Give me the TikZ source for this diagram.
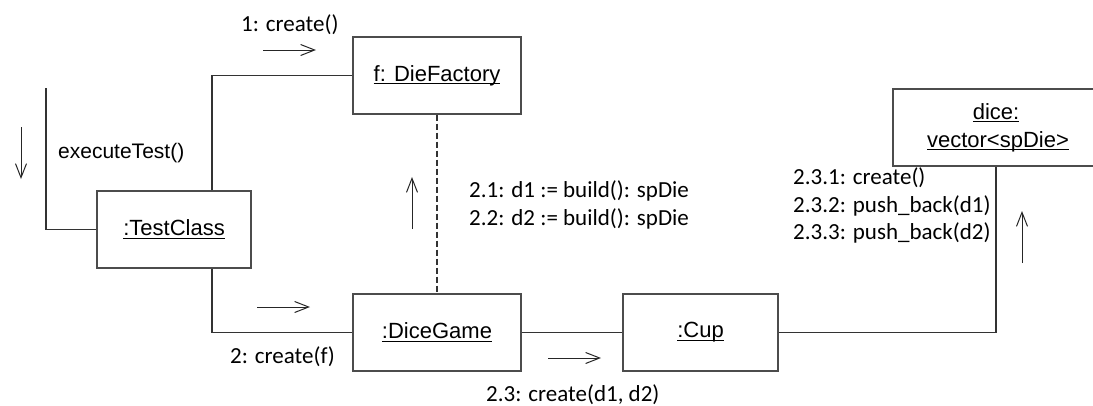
\documentclass[tikz,border=0pt]{standalone}
\usepackage{fontspec}
\setmainfont{Carlito}
\newfontfamily\arialf{Liberation Sans}
\usetikzlibrary{arrows.meta}
\newcommand{\uln}[1]{\setbox0\hbox{#1}\rlap{\rule[-3.3pt]{\wd0}{1.4pt}}\box0}
\tikzset{
  obj/.style={draw=black!70, line width=1.1pt, rectangle, inner sep=0pt,
    minimum height=77pt, font=\arialf\fontsize{22}{27}\selectfont, align=center},
  link/.style={draw=black!80, line width=1.1pt},
  msg/.style={draw=black!85, line width=1pt, -{Straight Barb[length=14pt,width=11pt,line width=1pt]}},
  lbl/.style={anchor=base west, inner sep=0pt, font=\fontsize{23}{27}\selectfont},
  albl/.style={anchor=base west, inner sep=0pt, font=\arialf\fontsize{21}{26}\selectfont}
}
\begin{document}
\begin{tikzpicture}[x=1pt,y=-1pt]
\useasboundingbox (0,0) rectangle (1093,405);
\clip (0,0) rectangle (1093,405);
% objects
\node[obj, minimum width=154pt] (tc) at (174,229.5) {\uln{:TestClass}};
\node[obj, minimum width=168pt] (df) at (437,75.5) {\uln{f: DieFactory}};
\node[obj, minimum width=168pt] (dg) at (437,332.5) {\uln{:DiceGame}};
\node[obj, minimum width=155pt] (cup) at (700.5,332.5) {\uln{:Cup}};
\node[obj, minimum width=206pt] (dice) at (996,127.5) {\uln{dice:}\\[1pt]\hspace*{4pt}\uln{vector<spDie>}};
% links
\coordinate (etop) at (46,88);
\draw[link] (etop) |- (tc.west);
\draw[link] ([xshift=38pt]tc.north) |- (df.west);
\draw[link] ([xshift=38pt]tc.south) |- (dg.west);
\draw[link, dash pattern=on 6pt off 3pt] (df.south) -- (dg.north);
\draw[link] (dg.east) -- (cup.west);
\draw[link] (cup.east) -| (dice.south);
% message arrows
\coordinate (a1s) at (263,50); \coordinate (a1e) at (316,50);
\draw[msg] (a1s) -- (a1e);
\coordinate (aes) at (21,127); \coordinate (aee) at (21,179);
\draw[msg] (aes) -- (aee);
\coordinate (a2s) at (257,307); \coordinate (a2e) at (310,307);
\draw[msg] (a2s) -- (a2e);
\coordinate (a21s) at (412,229); \coordinate (a21e) at (412,177);
\draw[msg] (a21s) -- (a21e);
\coordinate (a23s) at (548,358); \coordinate (a23e) at (601,358);
\draw[msg] (a23s) -- (a23e);
\coordinate (a231s) at (1022,263); \coordinate (a231e) at (1022,211);
\draw[msg] (a231s) -- (a231e);
% labels
\node[lbl] (l1) at (241,31) {1: create()};
\node[albl] (le) at (58,158) {executeTest()};
\node[lbl] (l2) at (230,363) {2: create(f)};
\node[lbl] (l21) at (469,197) {2.1: d1 := build(): spDie};
\node[lbl] (l22) at (469,225) {2.2: d2 := build(): spDie};
\node[lbl] (l23) at (486,401) {2.3: create(d1, d2)};
\node[lbl] (l231) at (793,184) {2.3.1: create()};
\node[lbl] (l232) at (793,212) {2.3.2: push\_back(d1)};
\node[lbl] (l233) at (793,239.5) {2.3.3: push\_back(d2)};
\end{tikzpicture}
\end{document}
